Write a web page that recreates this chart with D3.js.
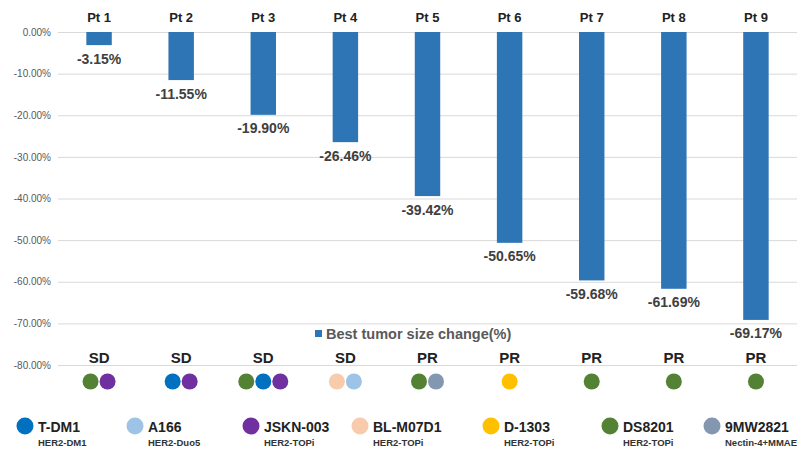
<!DOCTYPE html>
<html lang="en">
  <head>
    <meta charset="utf-8">
    <title>Best tumor size change</title>
    <script src="https://d3js.org/d3.v7.min.js"></script>
    <style>
      body { margin: 0; background: #fff; }
      text { font-family: Arial, "Liberation Sans", sans-serif; }
    </style>
  </head>

  <body>
  <script>

  // data
  var patients = ["Pt 1", "Pt 2", "Pt 3", "Pt 4", "Pt 5", "Pt 6", "Pt 7", "Pt 8", "Pt 9"];
  var changes = [-3.15, -11.55, -19.90, -26.46, -39.42, -50.65, -59.68, -61.69, -69.17];
  var responses = ["SD", "SD", "SD", "SD", "PR", "PR", "PR", "PR", "PR"];
  var regimens = [
    ["DS8201", "JSKN-003"],
    ["T-DM1", "JSKN-003"],
    ["DS8201", "T-DM1", "JSKN-003"],
    ["BL-M07D1", "A166"],
    ["DS8201", "9MW2821"],
    ["D-1303"],
    ["DS8201"],
    ["DS8201"],
    ["DS8201"]
  ];
  var drugs = ["T-DM1", "A166", "JSKN-003", "BL-M07D1", "D-1303", "DS8201", "9MW2821"];
  var drugTypes = ["HER2-DM1", "HER2-Duo5", "HER2-TOPi", "HER2-TOPi", "HER2-TOPi", "HER2-TOPi", "Nectin-4+MMAE"];
  var drugColors = ["#0070c0", "#9dc3e6", "#7030a0", "#f8cbad", "#ffc000", "#548235", "#8497b0"];
  var yTicks = [0, -10, -20, -30, -40, -50, -60, -70, -80];
  var seriesName = "Best tumor size change(%)";

  var w = 809;
  var h = 462;
  var margin = {left: 58, right: 12, top: 32};

  // percent with a plain hyphen, as in the original
  var pct = d => d3.format(".2f")(d).replace("\u2212", "-") + "%";

  var svg = d3.select("body")
    .append("svg")
      .attr("width", w)
      .attr("height", h);

  var xScale = d3.scaleBand()
      .domain(patients)
      .range([margin.left, w - margin.right])
      .paddingInner(0.69)
      .paddingOuter(0.345);

  var yScale = d3.scaleLinear()
      .domain([0, -80])
      .range([margin.top, 365]);

  var color = d3.scaleOrdinal().domain(drugs).range(drugColors);

  // gridlines + y labels
  var yAxis = d3.axisLeft(yScale)
      .tickValues(yTicks)
      .tickSize(-(w - margin.right - margin.left))
      .tickPadding(7)
      .tickFormat(pct);

  var gy = svg.append("g")
      .attr("transform", `translate(${margin.left},0)`)
      .call(yAxis);
  gy.select(".domain").remove();
  gy.selectAll(".tick line").attr("stroke", "#d9d9d9");
  gy.selectAll(".tick text")
      .attr("fill", "#595959")
      .style("font-size", "10px");

  // patient labels
  svg.append("g").selectAll("text")
    .data(patients)
    .enter().append("text")
      .attr("x", d => xScale(d) + xScale.bandwidth() / 2)
      .attr("y", 22)
      .attr("text-anchor", "middle")
      .attr("font-weight", "bold")
      .attr("font-size", "13px")
      .attr("fill", "#222")
      .text(d => d);

  // bars
  svg.append("g").selectAll("rect")
    .data(changes)
    .enter().append("rect")
      .attr("x", (d, i) => xScale(patients[i]))
      .attr("y", yScale(0))
      .attr("width", xScale.bandwidth())
      .attr("height", d => yScale(d) - yScale(0))
      .attr("fill", "#2e75b6");

  // value labels
  svg.append("g").selectAll("text")
    .data(changes)
    .enter().append("text")
      .attr("x", (d, i) => xScale(patients[i]) + xScale.bandwidth() / 2)
      .attr("y", d => yScale(d) + 18.5)
      .attr("text-anchor", "middle")
      .attr("font-weight", "bold")
      .attr("font-size", "14px")
      .attr("fill", "#404040")
      .text(pct);

  // series legend
  svg.append("rect")
      .attr("x", 315)
      .attr("y", 330)
      .attr("width", 7)
      .attr("height", 7)
      .attr("fill", "#2e75b6");
  svg.append("text")
      .attr("x", 326)
      .attr("y", 339)
      .attr("font-size", "14.5px")
      .attr("font-weight", "bold")
      .attr("fill", "#595959")
      .text(seriesName);

  // response labels
  svg.append("g").selectAll("text")
    .data(responses)
    .enter().append("text")
      .attr("x", (d, i) => xScale(patients[i]) + xScale.bandwidth() / 2)
      .attr("y", 363)
      .attr("text-anchor", "middle")
      .attr("font-weight", "bold")
      .attr("font-size", "15px")
      .attr("fill", "#222")
      .text(d => d);

  // regimen dots
  var dotGap = 17;
  regimens.forEach(function (list, i) {
    var cx = xScale(patients[i]) + xScale.bandwidth() / 2;
    svg.append("g").selectAll("circle")
      .data(list)
      .enter().append("circle")
        .attr("cx", (d, j) => cx + (j - (list.length - 1) / 2) * dotGap)
        .attr("cy", 381.5)
        .attr("r", 8)
        .attr("fill", d => color(d));
  });

  // drug legend
  var legendX = [25, 135, 251, 360, 491, 610, 712];
  var lg = svg.append("g").selectAll("g")
    .data(drugs)
    .enter().append("g")
      .attr("transform", (d, i) => `translate(${legendX[i]},426)`);
  lg.append("circle")
      .attr("r", 8.5)
      .attr("fill", d => color(d));
  lg.append("text")
      .attr("x", 13)
      .attr("y", 6)
      .attr("font-weight", "bold")
      .attr("font-size", "14px")
      .attr("fill", "#222")
      .text(d => d);
  lg.append("text")
      .attr("x", 13)
      .attr("y", 20)
      .attr("font-weight", "bold")
      .attr("font-size", "9.5px")
      .attr("fill", "#333")
      .text((d, i) => drugTypes[i]);

  </script>
  </body>
</html>
